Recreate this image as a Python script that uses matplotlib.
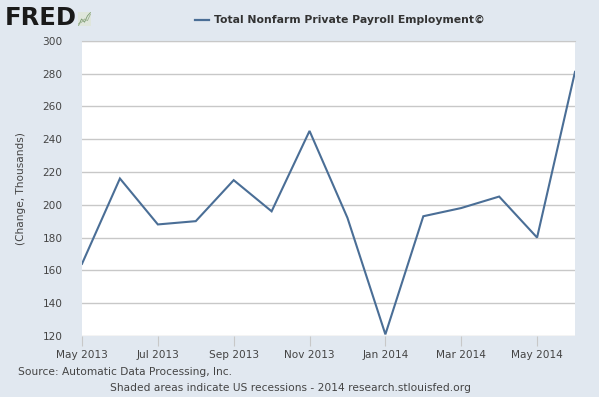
import matplotlib
matplotlib.use("Agg")
import matplotlib.pyplot as plt
from matplotlib.lines import Line2D

months = ["May 2013", "Jun 2013", "Jul 2013", "Aug 2013", "Sep 2013", "Oct 2013",
          "Nov 2013", "Dec 2013", "Jan 2014", "Feb 2014", "Mar 2014", "Apr 2014",
          "May 2014", "Jun 2014"]
values = [164, 216, 188, 190, 215, 196, 245, 192, 121, 193, 198, 205, 180, 281]
tick_labels = ["May 2013", "Jul 2013", "Sep 2013", "Nov 2013", "Jan 2014",
               "Mar 2014", "May 2014"]
y_ticks = [120, 140, 160, 180, 200, 220, 240, 260, 280, 300]

bg = "#e1e8f0"
line_color = "#4a6e96"
text_color = "#444444"

fig = plt.figure(figsize=(5.99, 3.97), dpi=100, facecolor=bg)
ax = fig.add_axes([82/599, 1-336/397, (575-82)/599, (336-40.7)/397])
ax.set_facecolor("white")

x = list(range(len(months)))
ax.plot(x, values, color=line_color, linewidth=1.5, solid_joinstyle="miter")

ax.set_xlim(0, len(months)-1)
ax.set_ylim(120, 300)
ax.set_yticks(y_ticks)
ax.set_yticklabels([str(v) for v in y_ticks])
tick_pos = [months.index(t) for t in tick_labels]
ax.set_xticks(tick_pos)
ax.set_xticklabels(tick_labels)

ax.grid(axis="y", color="#c8c8c8", linewidth=1)
ax.set_axisbelow(True)
for s in ["left", "right", "bottom"]:
    ax.spines[s].set_visible(False)
ax.spines["top"].set_color("#c8c8c8")
ax.tick_params(axis="y", length=0, pad=14, labelsize=7.6, labelcolor=text_color)
ax.tick_params(axis="x", length=7.5, color="#c8c8c8", direction="out",
               pad=2.5, labelsize=7.6, labelcolor=text_color)

ax.set_ylabel("(Change, Thousands)", fontsize=7.6, color=text_color, labelpad=12)

# Title with legend line
fig.add_artist(Line2D([195/599, 209/599], [1-20/397, 1-20/397], color=line_color,
                      linewidth=1.6, transform=fig.transFigure))
fig.text(214/599, 1-20/397, "Total Nonfarm Private Payroll Employment©",
         fontsize=7.8, fontweight="bold", color="#333333", va="center", ha="left")

# FRED logo
fig.text(5/599, 1-18/397, "FRED", fontsize=17.5, fontweight="heavy", color="#1a1a1a",
         va="center", ha="left")
icon = fig.add_axes([78/599, 1-26/397, 13/599, 14/397])
icon.set_facecolor("#dfe6dc")
icon.plot([0, 1, 2, 3, 4], [0, 2, 1, 3, 4], color="#7a9a70", linewidth=0.6)
icon.plot([0, 1, 2, 3, 4], [0.5, 1, 2, 1.5, 3.5], color="#9ab08f", linewidth=0.6)
icon.set_xticks([]); icon.set_yticks([])
for s in icon.spines.values():
    s.set_visible(False)

fig.text(18/599, 1-372/397, "Source: Automatic Data Processing, Inc.",
         fontsize=7.7, color=text_color, va="center", ha="left")
fig.text(290/599, 1-388/397,
         "Shaded areas indicate US recessions - 2014 research.stlouisfed.org",
         fontsize=7.7, color=text_color, va="center", ha="center")

fig.savefig("out.png", dpi=100, facecolor=bg)
